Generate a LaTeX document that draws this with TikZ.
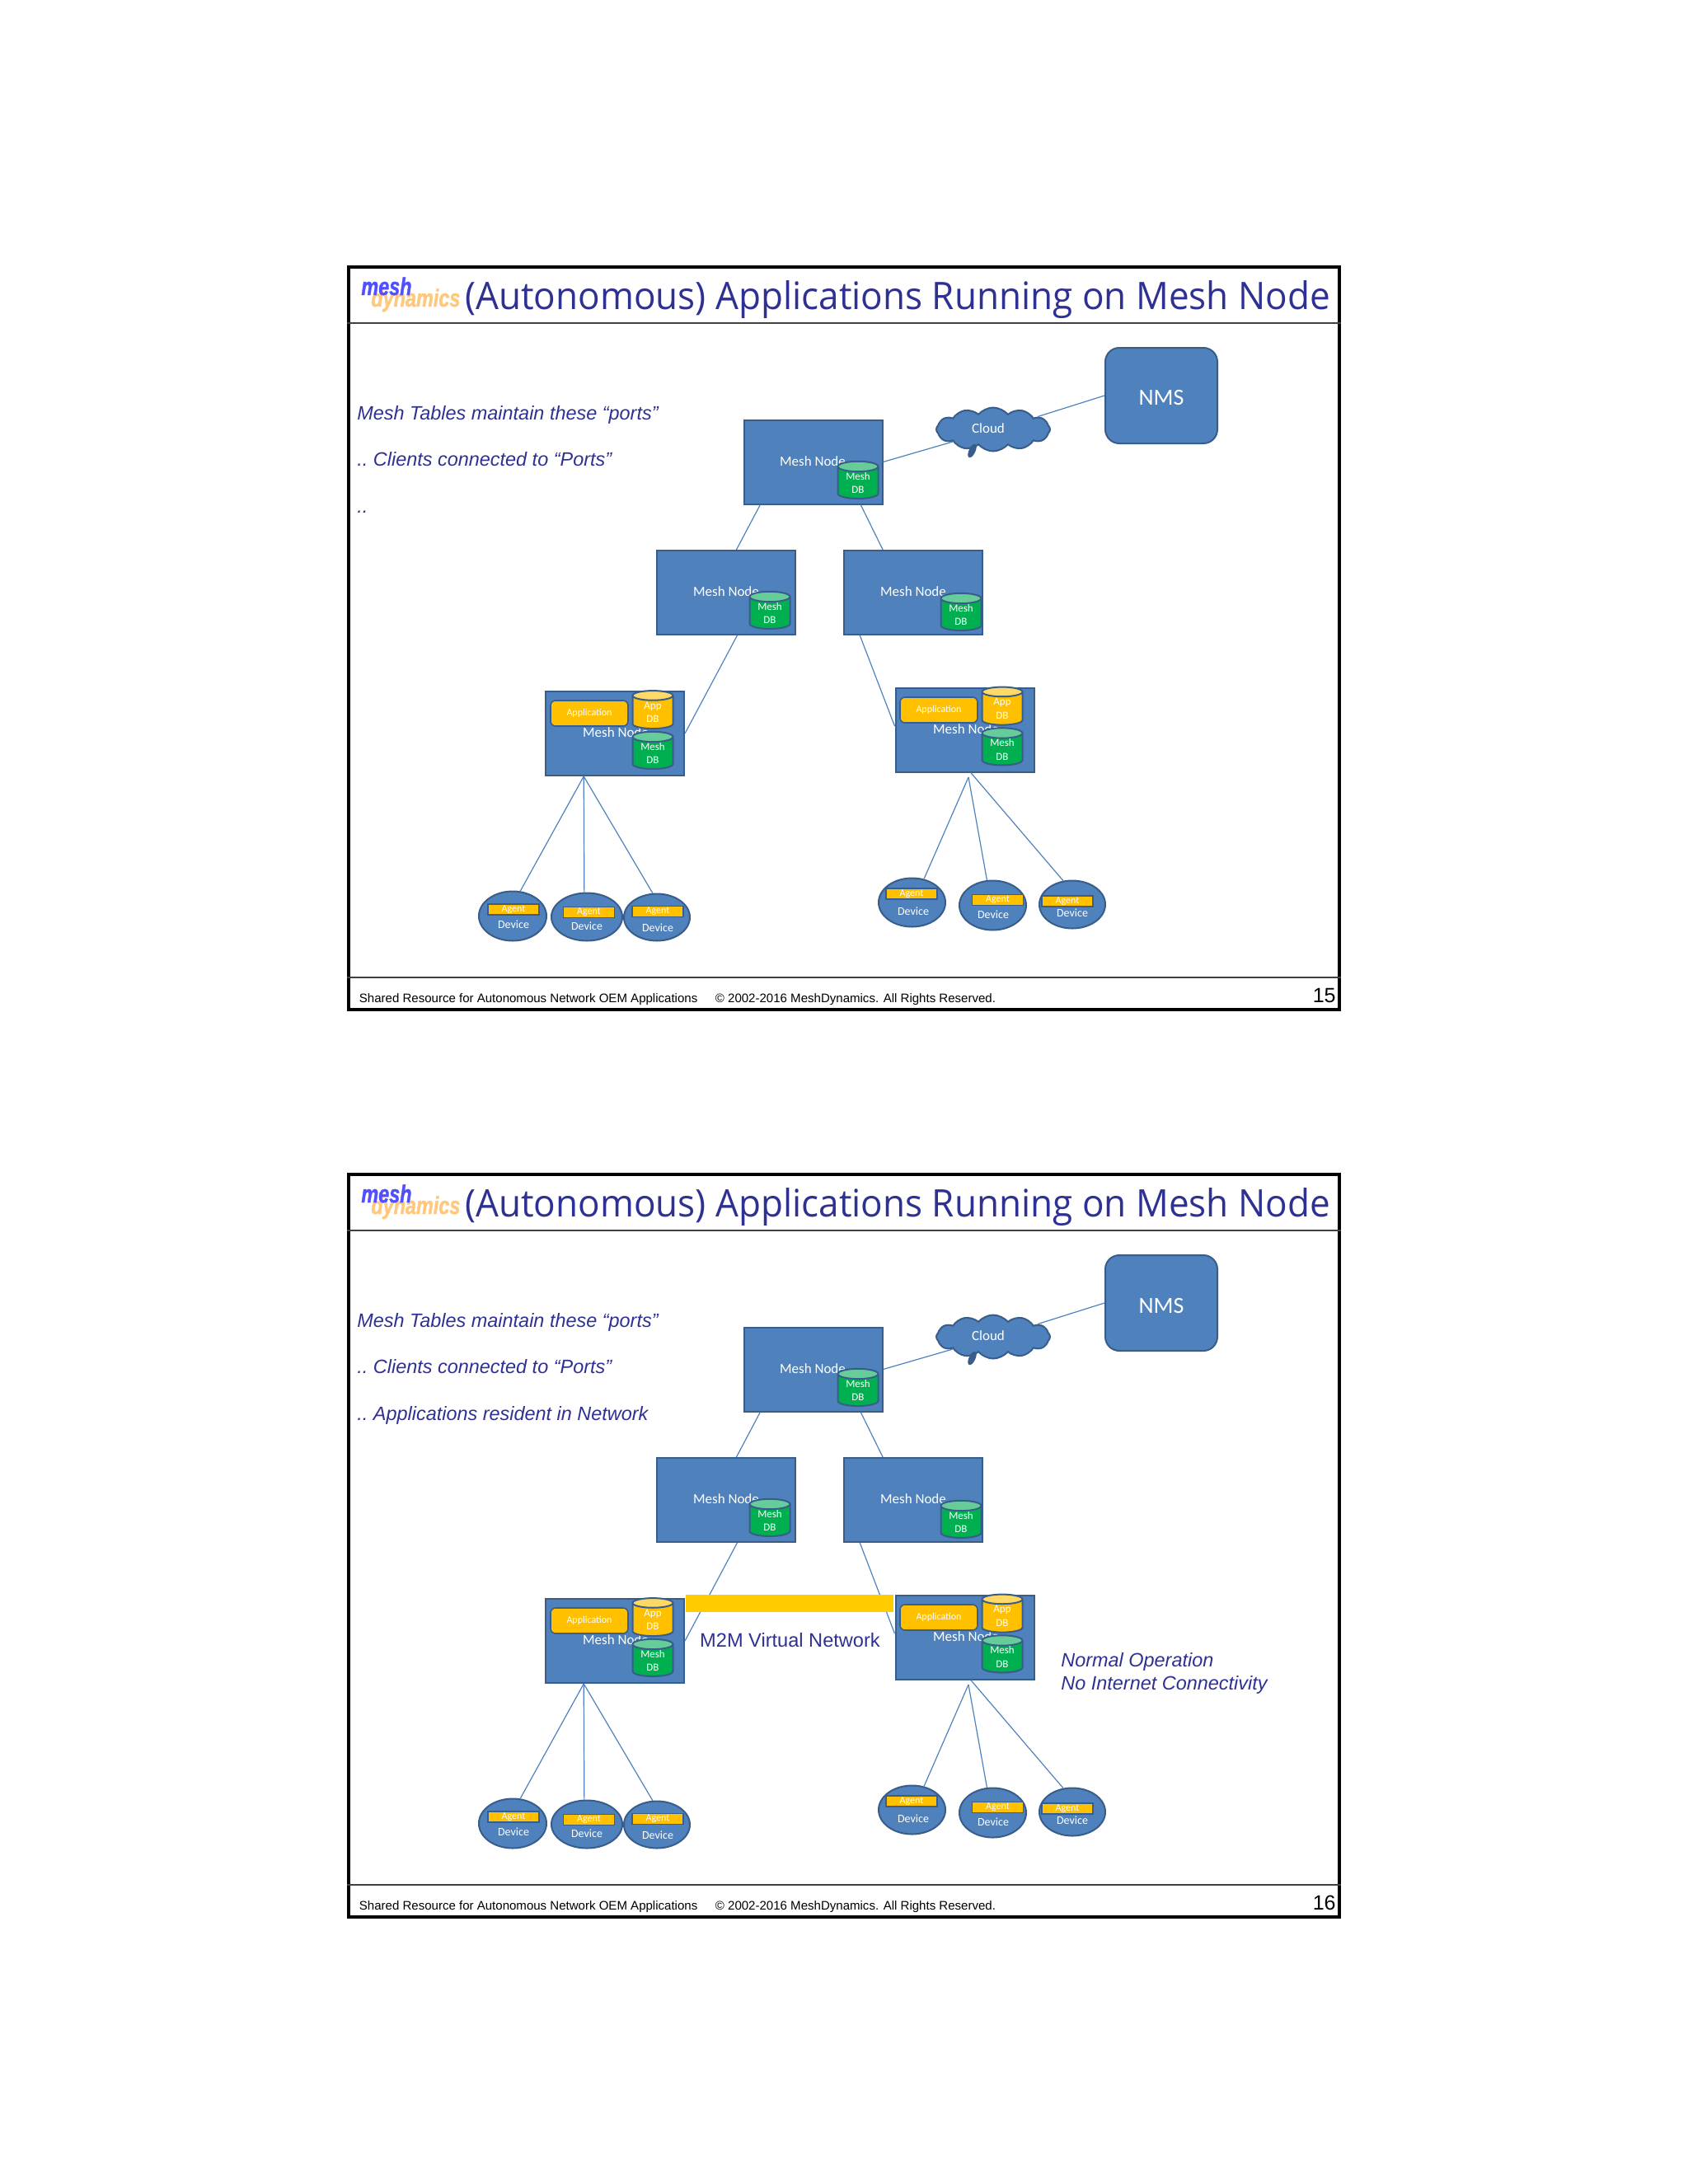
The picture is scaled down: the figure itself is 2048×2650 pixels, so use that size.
\documentclass[tikz,border=0pt]{standalone}
\usepackage{fontspec}
\setmainfont{Liberation Sans}
\newfontfamily\titlefont{Open Sans}
\newfontfamily\shapefont{Carlito}
\newfontfamily\logofont[FakeBold=1.5]{Liberation Sans}
\usetikzlibrary{shapes.geometric, shapes.symbols, positioning}
\definecolor{color1}{RGB}{79,129,189}
\definecolor{color2}{RGB}{56,93,138}
\definecolor{color3}{RGB}{0,176,80}
\definecolor{color4}{RGB}{102,204,153}
\definecolor{color5}{RGB}{255,192,0}
\definecolor{color6}{RGB}{255,217,102}
\definecolor{color7}{RGB}{46,49,146}
\definecolor{color8}{RGB}{255,204,0}
\definecolor{color9}{RGB}{255,200,125}
\definecolor{color10}{RGB}{80,80,255}
\tikzset{
  meshbox/.style={draw=color2,line width=1pt,fill=color1,minimum width=84pt,minimum height=51pt,inner sep=0pt},
  shapetext/.style={text=white,font=\shapefont\fontsize{8.5}{10}\selectfont,inner sep=0pt},
  dbcyl/.style={cylinder,shape border rotate=90,draw=color2,line width=1pt,cylinder uses custom fill,
    minimum width=24.5pt,inner sep=0pt,text=white,align=center,
    font=\shapefont\fontsize{6.5}{8.3}\selectfont},
  meshdb/.style={dbcyl,aspect=0.42,minimum height=20.5pt,cylinder body fill=color3,cylinder end fill=color4},
  appdb/.style={dbcyl,aspect=0.55,minimum height=23pt,cylinder body fill=color5,cylinder end fill=color6},
  appbox/.style={draw=color2,line width=.8pt,fill=color5,rounded corners=3pt,minimum width=47pt,minimum height=15.5pt,
    inner sep=0pt,text=white,font=\shapefont\fontsize{6}{7}\selectfont},
  device/.style={ellipse,draw=color2,line width=1pt,fill=color1,inner sep=0pt},
  agent/.style={draw=color2,line width=.8pt,fill=color5,minimum width=31pt,minimum height=6.5pt,inner sep=0pt,
    text=white,font=\shapefont\fontsize{6}{6}\selectfont},
  link/.style={draw=color1,line width=.6pt},
  slidetext/.style={text=color7,anchor=base west,inner sep=0pt,font=\itshape\frenchspacing\fontsize{11.72}{13}\selectfont},
  footer/.style={anchor=base west,inner sep=0pt,font=\fontsize{7.52}{8}\selectfont}
}
\begin{document}
\begin{tikzpicture}[x=0.5pt,y=-0.5pt]
\useasboundingbox (0,0) rectangle (2048,2650);
\foreach \sl/\dy/\thirdline/\pg in {a/0/../15,b/1101/.. Applications resident in Network/16}{
\begin{scope}[shift={(0,\dy)}]
  % frame of the slide
  \node[draw=black,line width=1.6pt,minimum width=601pt,minimum height=450.5pt,inner sep=0pt] (frame\sl) at (1024,774.5) {};
  \draw[line width=.8pt,draw=black!75] (frame\sl.west |- 0,392) -- (frame\sl.east |- 0,392);
  \draw[line width=.8pt,draw=black!75] (frame\sl.west |- 0,1186) -- (frame\sl.east |- 0,1186);
  % logo and title
  \node[anchor=base west,inner sep=0pt,text=color9,font=\logofont\bfseries\itshape\fontsize{15}{15}\selectfont] (dyn\sl) at (450,372) {\scalebox{.78}[1]{dynamics}};
  \node[anchor=base west,inner sep=0pt,text=color10,font=\logofont\bfseries\itshape\fontsize{15}{15}\selectfont] (logo\sl) at (438,358) {\scalebox{.78}[1]{mesh}};
  \node[anchor=base west,inner sep=0pt,text=color7,font=\titlefont\fontsize{23}{26}\selectfont] (title\sl) at (564,375) {\scalebox{.958}[1]{(Autonomous) Applications Running on Mesh Node}};
  % left texts
  \node[slidetext] (port\sl) at (433,509) {Mesh Tables maintain these “ports”};
  \node[slidetext] (client\sl) at (433,565) {.. Clients connected to “Ports”};
  \node[slidetext] (third\sl) at (433,622) {\thirdline};
  % network
  \node[draw=color2,line width=1pt,fill=color1,rounded corners=8.5pt,minimum width=68pt,minimum height=58pt,inner sep=0pt] (nms\sl) at (1409,480) {};
  \node[text=white,font=\shapefont\fontsize{14}{16}\selectfont,inner sep=0pt] (nmst\sl) at (1409,483) {NMS};
  \node[cloud,cloud puffs=12,cloud puff arc=100,aspect=2.8,draw=color2,line width=1pt,fill=color1,minimum width=69pt,minimum height=26.5pt,inner sep=0pt] (cloud\sl) at (1205,521) {};
  \node[text=white,font=\shapefont\fontsize{8.5}{10}\selectfont,inner sep=0pt] (cloudt\sl) at (1199,520) {Cloud};
  \node[ellipse,draw=color2,fill=color2,rotate=65,minimum width=8.5pt,minimum height=3.5pt,inner sep=0pt] (tail\sl) at (1179.5,547) {};
  \node[meshbox] (top\sl) at (986.5,560.5) {};
  \node[meshbox] (left\sl) at (880.5,719) {};
  \node[meshbox] (right\sl) at (1107.5,719) {};
  \node[meshbox] (appl\sl) at (746,890) {};
  \node[meshbox] (appr\sl) at (1170.5,885.5) {};
  \node[shapetext] (topt\sl) at (986,560) {Mesh Node};
  \node[shapetext] (leftt\sl) at (881,718) {Mesh Node};
  \node[shapetext] (rightt\sl) at (1108,718) {Mesh Node};
  \node[shapetext] (applt\sl) at (747,889) {Mesh Node};
  \node[shapetext] (apprt\sl) at (1172,885) {Mesh Node};
  \node[meshdb] (topdb\sl) at (1041,586) {Mesh\\DB};
  \node[meshdb] (leftdb\sl) at (934,744) {Mesh\\DB};
  \node[meshdb] (rightdb\sl) at (1166,746) {Mesh\\DB};
  \node[appbox] (appa\sl) at (715,865.5) {Application};
  \node[appbox] (appb\sl) at (1139,861.5) {Application};
  \node[appdb] (adba\sl) at (792,864.5) {App\\DB};
  \node[appdb] (adbb\sl) at (1216,860) {App\\DB};
  \node[meshdb] (mdba\sl) at (792,914) {Mesh\\DB};
  \node[meshdb] (mdbb\sl) at (1216,909.5) {Mesh\\DB};
  % devices
  \foreach \n/\cx/\cy/\w/\h/\ax/\ay/\tx/\ty in {1/622/1111.5/41/30/623/1103.5/623/1122,2/712/1112.5/43/29/714.5/1107/712/1124,3/797/1113/40/28.5/798/1106/798/1126,4/1106.5/1095/40.5/29.5/1106/1084.5/1108/1106,5/1204.5/1098.5/40.5/30/1210.5/1092/1205/1110,6/1301/1097.5/40/29/1295/1093.5/1301/1108}{
    \node[device,minimum width=\w pt,minimum height=\h pt] (dev\n\sl) at (\cx,\cy) {};
    \node[agent] (agent\n\sl) at (\ax,\ay) {Agent};
    \node[shapetext,font=\shapefont\fontsize{7}{8}\selectfont] (devt\n\sl) at (\tx,\ty) {Device};
  }
  % connectors
  \coordinate (apexr\sl) at (1175,943);
  \draw[link] (top\sl.east) -- (cloud\sl.197);
  \draw[link] (cloud\sl.16) -- (nms\sl.west);
  \draw[link] (top\sl.-141.6) -- (left\sl.76.5);
  \draw[link] (top\sl.-42.4) -- (right\sl.125.8);
  \draw[link] (left\sl.-75.5) -- (appl\sl.east);
  \draw[link] (right\sl.-141.6) -- (appr\sl.177);
  \draw[link] (appl\sl.-126) -- (dev1\sl.73.5);
  \draw[link] (appl\sl.-126) -- (dev2\sl.96);
  \draw[link] (appl\sl.-126) -- (dev3\sl.100);
  \draw[link] (apexr\sl) -- (dev4\sl.63.4);
  \draw[link] (apexr\sl) -- (dev5\sl.103.8);
  \draw[link] (appr\sl.-82) -- (dev6\sl.111);
  % footer
  \node[footer] (foot\sl) at (435.5,1216) {Shared Resource for Autonomous Network OEM Applications};
  \node[footer] (copy\sl) at (867.5,1216) {© 2002-2016 MeshDynamics. All Rights Reserved.};
  \node[anchor=base east,inner sep=0pt,font=\fontsize{12.5}{14}\selectfont] (page\sl) at (1621,1216) {\pg};
\end{scope}
}
% second slide only
\fill[color8] (832,1935) rectangle (1084,1956) node[midway,inner sep=0pt] (band) {};
\node[text=color7,inner sep=0pt,anchor=base,font=\fontsize{11.8}{14}\selectfont] (m2m) at (958.5,1998) {M2M Virtual Network};
\node[slidetext] (normal) at (1287,2022) {Normal Operation};
\node[slidetext] (noinet) at (1287,2050) {No Internet Connectivity};
\end{tikzpicture}
\end{document}
